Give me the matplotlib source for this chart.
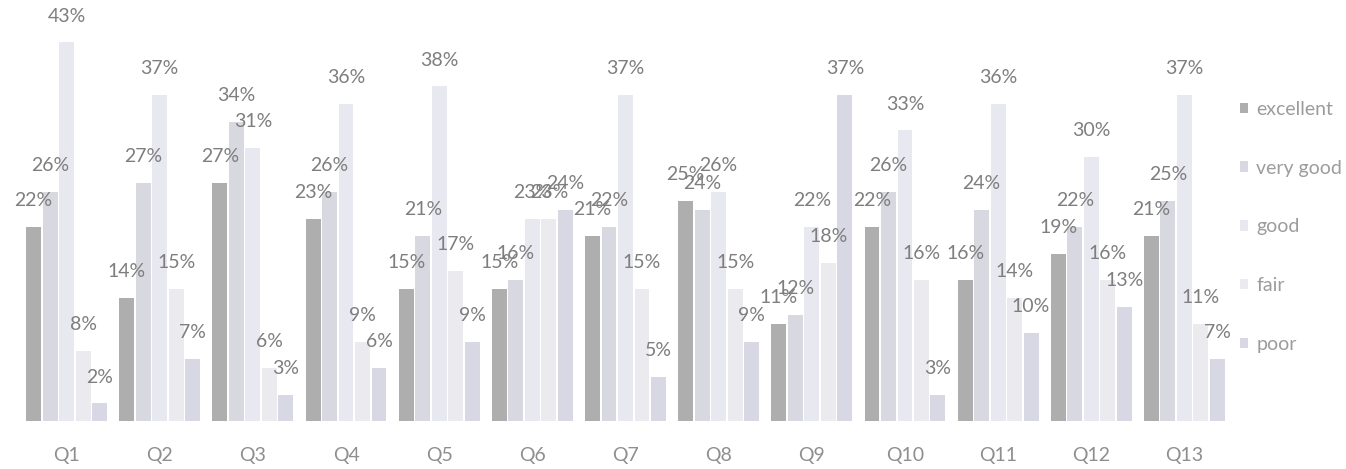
import matplotlib
matplotlib.use("Agg")
import matplotlib.pyplot as plt
import numpy as np

# Survey answers per question, in percent
questions = ["Q1", "Q2", "Q3", "Q4", "Q5", "Q6", "Q7", "Q8", "Q9", "Q10", "Q11", "Q12", "Q13"]
excellent = [22, 14, 27, 23, 15, 15, 21, 25, 11, 22, 16, 19, 21]
very_good = [26, 27, 34, 26, 21, 16, 22, 24, 12, 26, 24, 22, 25]
good = [43, 37, 31, 36, 38, 23, 37, 26, 22, 33, 36, 30, 37]
fair = [8, 15, 6, 9, 17, 23, 15, 15, 18, 16, 14, 16, 11]
poor = [2, 7, 3, 6, 9, 24, 5, 9, 37, 3, 10, 13, 7]

series = [
    ("excellent", excellent, "#aeaeae"),
    ("very good", very_good, "#d8d8e0"),
    ("good", good, "#e8e8f0"),
    ("fair", fair, "#ebebef"),
    ("poor", poor, "#d8d8e4"),
]

plt.rcParams["font.family"] = ["Lato", "DejaVu Sans"]

fig = plt.figure(figsize=(13.46, 4.69), dpi=100)
ax = fig.add_axes([20 / 1346, 48 / 469, 1211 / 1346, 405 / 469])

x = np.arange(len(questions))
step = 0.177
width = 0.16

for i, (name, vals, color) in enumerate(series):
    pos = x + (i - 2) * step
    ax.bar(pos, vals, width, color=color, label=name)
    for px, v in zip(pos, vals):
        ax.annotate(f"{v}%", (px, v), xytext=(0, 19), textcoords="offset points",
                    ha="center", va="center", fontsize=14, color="#7e7e7e")

ax.set_xlim(-0.5, len(questions) - 0.5)
ax.set_ylim(0, 46)
ax.set_xticks(x)
ax.set_xticklabels(questions)
ax.tick_params(axis="x", length=0, pad=19, labelsize=14, labelcolor="#8e8e8e")
ax.set_yticks([])
for sp in ax.spines.values():
    sp.set_visible(False)

fig.legend(loc="upper left", bbox_to_anchor=(1230 / 1346, 1 - 91 / 469), frameon=False,
           fontsize=14, labelcolor="#9c9c9c", handlelength=0.45, handleheight=0.45,
           handletextpad=0.4, labelspacing=2.15, borderpad=0)

fig.savefig("out.png", dpi=100, facecolor="white")
